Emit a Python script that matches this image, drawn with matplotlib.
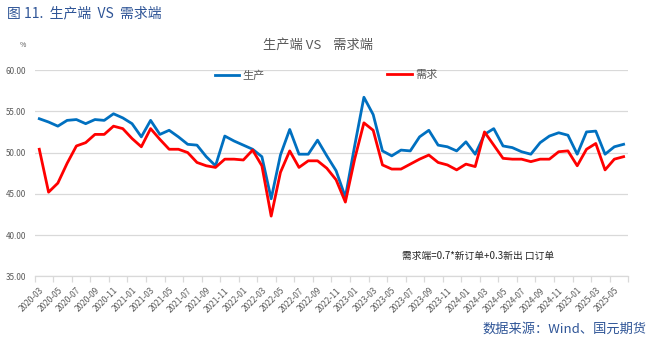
import matplotlib
matplotlib.use('Agg')
import matplotlib.pyplot as plt
import numpy as np

plt.rcParams['font.family'] = ['Noto Sans CJK SC', 'DejaVu Sans']

# monthly series, 2020-03 .. 2025-06
months = [f'{y}-{m:02d}' for y in range(2020, 2026) for m in range(1, 13)]
months = months[2:2 + 64]

production = [54.1, 53.7, 53.2, 53.9, 54.0, 53.5, 54.0, 53.9, 54.7, 54.2,
              53.5, 51.9, 53.9, 52.2, 52.7, 51.9, 51.0, 50.9, 49.5, 48.4, 52.0, 51.4,
              50.9, 50.4, 49.5, 44.4, 49.7, 52.8, 49.8, 49.8, 51.5, 49.6, 47.8, 44.6,
              50.8, 56.7, 54.6, 50.2, 49.6, 50.3, 50.2, 51.9, 52.7, 50.9, 50.7, 50.2,
              51.3, 49.8, 52.2, 52.9, 50.8, 50.6, 50.1, 49.8, 51.2, 52.0, 52.4, 52.1,
              49.8, 52.5, 52.6, 49.8, 50.7, 51.0]

demand = [50.4, 45.2, 46.3, 48.7, 50.8, 51.2, 52.2, 52.2, 53.2, 52.9,
          51.7, 50.7, 52.9, 51.6, 50.4, 50.4, 50.0, 48.8, 48.4, 48.2, 49.2, 49.2,
          49.1, 50.3, 48.4, 42.3, 47.6, 50.2, 48.2, 49.0, 49.0, 48.1, 46.7, 44.0,
          49.2, 53.6, 52.7, 48.5, 48.0, 48.0, 48.6, 49.2, 49.7, 48.8, 48.5, 47.9,
          48.6, 48.3, 52.5, 50.9, 49.3, 49.2, 49.2, 48.9, 49.2, 49.2, 50.1, 50.2,
          48.4, 50.4, 51.1, 47.9, 49.2, 49.5]

yticks = [35, 40, 45, 50, 55, 60]

fig = plt.figure(figsize=(6.48, 3.45), dpi=100)
ax = fig.add_axes([0.0535, 0.199, 0.916, 0.598])

x = np.arange(len(months))
ax.plot(x, production, color='#0070C0', lw=2.0, label='生产', zorder=3)
ax.plot(x, demand, color='#FF0000', lw=2.0, label='需求', zorder=3)

ax.set_xlim(-0.5, len(months) - 0.5)
ax.set_ylim(35, 60)
ax.set_yticks(yticks)
ax.set_yticklabels([f'{v:.2f}' for v in yticks], fontsize=5.8, color='#595959')
ax.tick_params(axis='y', length=0, pad=6)
ax.grid(axis='y', color='#d9d9d9', lw=0.9)
ax.set_axisbelow(True)

ax.set_xticks(x[::2])
ax.set_xticklabels(months[::2], rotation=45, ha='right', rotation_mode='anchor',
                   fontsize=6, color='#595959')
ax.set_xticks(np.arange(-0.5, len(months), 2), minor=True)
ax.tick_params(axis='x', which='major', length=0, pad=7)
ax.tick_params(axis='x', which='minor', length=4, color='#d9d9d9', width=0.9)

for s in ['top', 'right', 'left']:
    ax.spines[s].set_visible(False)
ax.spines['bottom'].set_color('#d9d9d9')
ax.spines['bottom'].set_linewidth(0.9)

# legend entries placed apart, like the Excel layout
h1, h2 = ax.get_lines()
fig.legend([h1], ['生产'], loc='center', bbox_to_anchor=(0.37, 0.782), frameon=False,
           fontsize=8, handlelength=2.2, handletextpad=0.3, labelcolor='#595959')
fig.legend([h2], ['需求'], loc='center', bbox_to_anchor=(0.636, 0.782), frameon=False,
           fontsize=8, handlelength=2.2, handletextpad=0.3, labelcolor='#595959')

fig.text(0.011, 0.962, '图 11.  生产端  VS  需求端', fontsize=10, color='#2F5597',
         va='center', ha='left')
fig.text(0.491, 0.87, '生产端 VS    需求端', fontsize=9.5, color='#595959',
         va='center', ha='center')
fig.text(0.031, 0.87, '%', fontsize=5, color='#595959', va='center', ha='left')
fig.text(0.62, 0.258, '需求端=0.7*新订单+0.3新出 口订单', fontsize=7, color='#262626',
         va='center', ha='left')
fig.text(0.998, 0.045, '数据来源：Wind、国元期货', fontsize=9.5, color='#2F5597',
         va='center', ha='right')

fig.savefig('out.png', dpi=100)
